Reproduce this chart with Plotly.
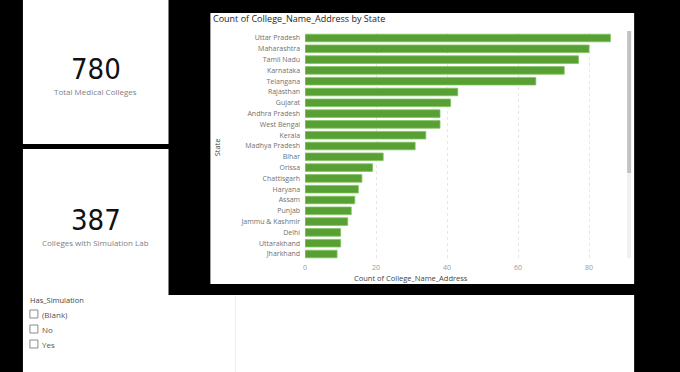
import plotly.graph_objects as go

# ---- data ----
states = ["Uttar Pradesh", "Maharashtra", "Tamil Nadu", "Karnataka", "Telangana",
          "Rajasthan", "Gujarat", "Andhra Pradesh", "West Bengal", "Kerala",
          "Madhya Pradesh", "Bihar", "Orissa", "Chattisgarh", "Haryana", "Assam",
          "Punjab", "Jammu & Kashmir", "Delhi", "Uttarakhand", "Jharkhand"]
college_counts = [86, 80, 77, 73, 65, 43, 41, 38, 38, 34, 31, 22, 19, 16, 15, 14,
                  13, 12, 10, 10, 9]
x_ticks = [0, 20, 40, 60, 80]
kpi_values = ["780", "387"]
kpi_labels = ["Total Medical Colleges", "Colleges with Simulation Lab"]
slicer_title = "Has_Simulation"
slicer_items = ["(Blank)", "No", "Yes"]

W, H = 680, 372
def px(x): return x / W
def py(y): return 1 - y / H

FONT = "Segoe UI, Open Sans, sans-serif"

fig = go.Figure()
fig.add_trace(go.Bar(
    x=college_counts, y=states, orientation="h",
    marker=dict(color="#58A033", line=dict(color="#7CC35A", width=0.8)),
    hoverinfo="x+y",
))

# plot area geometry (pixels)
x0_px, x1_px = 304, 620
y0_px, y1_px = 32.6, 259.4
ppu = 3.56
xmax = (x1_px - x0_px) / ppu

fig.update_layout(
    width=W, height=H,
    margin=dict(l=0, r=0, t=0, b=0),
    paper_bgcolor="#000000",
    plot_bgcolor="rgba(0,0,0,0)",
    showlegend=False,
    bargap=0.3,
    font=dict(family=FONT),
    xaxis=dict(
        domain=[px(x0_px), px(x1_px)],
        range=[0, xmax],
        tickvals=x_ticks,
        tickfont=dict(size=7, color="#9a9a9a", family=FONT),
        showgrid=True, gridcolor="#e6e6e6", griddash="dot", gridwidth=1,
        zeroline=False, showline=False, fixedrange=True,
        ticks="", ticklabelstandoff=3,
    ),
    yaxis=dict(
        domain=[py(y1_px), py(y0_px)],
        autorange="reversed",
        tickfont=dict(size=7, color="#707070", family=FONT),
        showgrid=False, zeroline=False, showline=False,
        ticks="", ticklabelstandoff=4,
    ),
)

shapes = []
def rect(x0, y0, x1, y1, fill, line=None, lw=0, layer="below"):
    shapes.append(dict(type="rect", xref="paper", yref="paper",
                       x0=px(x0), x1=px(x1), y0=py(y1), y1=py(y0),
                       fillcolor=fill, line=dict(color=line or fill, width=lw),
                       layer=layer))

# panels
rect(21, 0, 167, 144, "#ffffff")
rect(21, 149, 167, 295, "#ffffff")
rect(21, 295, 634, 372, "#ffffff")
rect(209, 13, 634, 284, "#ffffff")
# divider in bottom area
shapes.append(dict(type="line", xref="paper", yref="paper",
                   x0=px(234), x1=px(234), y0=py(296), y1=py(372),
                   line=dict(color="#eeeeee", width=1), layer="below"))
# scrollbar
rect(627, 31, 631, 258, "#f0f0f0", layer="above")
rect(627, 31, 631, 173, "#c2c2c2", layer="above")
# checkboxes
for i in range(len(slicer_items)):
    yc = 314 + 15 * i
    rect(28, yc - 4, 36, yc + 4, "#ffffff", line="#8a8a8a", lw=1, layer="above")

annotations = []
def text(x, y, s, size, color, xanchor="left", yanchor="middle", angle=0, family=FONT):
    annotations.append(dict(x=px(x), y=py(y), xref="paper", yref="paper",
                            text=s, showarrow=False, xanchor=xanchor, yanchor=yanchor,
                            textangle=angle, borderpad=0,
                            font=dict(size=size, color=color, family=family)))

# chart title and axis titles
text(211, 19, "Count of College_Name_Address by State", 9, "#252423")
text(216, 147, "State", 7.5, "#444444", xanchor="center", angle=-90)
text(410, 278, "Count of College_Name_Address", 7.5, "#444444", xanchor="center")

# KPI cards
kpi_y = [69, 220]
for v, lab, yv in zip(kpi_values, kpi_labels, kpi_y):
    text(94, yv, v, 29, "#111111", xanchor="center",
         family="DejaVu Sans Condensed, Roboto, sans-serif")
    text(94, yv + 22, lab, 8, "#808080", xanchor="center")

# slicer
text(27, 300, slicer_title, 7.5, "#444444")
for i, it in enumerate(slicer_items):
    text(39, 314 + 15 * i, it, 8, "#555555")

fig.update_layout(shapes=shapes, annotations=annotations)
fig.write_html("out.html")
